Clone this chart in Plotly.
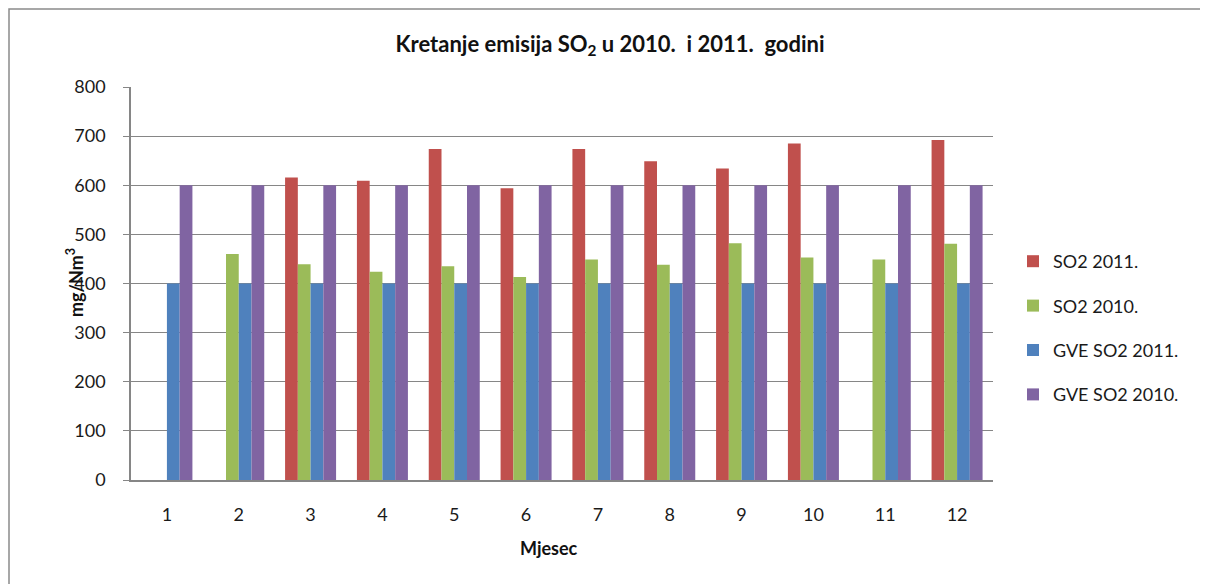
import plotly.graph_objects as go

months = [str(m) for m in range(1, 13)]
so2_2011 = [None, None, 616, 609, 674, 594, 674, 649, 634, 685, None, 692]
so2_2010 = [None, 460, 439, 424, 435, 413, 449, 438, 482, 453, 449, 481]
gve_2011 = [400] * 12
gve_2010 = [600] * 12

series = [
    ("SO2 2011.", so2_2011, "#C0504D"),
    ("SO2 2010.", so2_2010, "#9BBB59"),
    ("GVE SO2 2011.", gve_2011, "#4F81BD"),
    ("GVE SO2 2010.", gve_2010, "#8064A2"),
]

FONT = "Lato, Open Sans, sans-serif"

fig = go.Figure()
for i, (name, vals, col) in enumerate(series):
    fig.add_trace(go.Bar(x=months, y=vals, name=name, marker_color=col,
                         marker_line_width=0, legendgroup=f"g{i}"))

OFF = 8  # page body margin
W, H = 1200, 576
L, T = 131 - OFF, 87 - OFF
R, B = W - (993 - OFF), H - (480 - OFF)
pw, ph = W - L - R, H - T - B


def px(x):
    return (x - OFF - L) / pw


def py(y):
    return (H - B - (y - OFF)) / ph


fig.update_layout(
    width=W, height=H,
    margin=dict(l=L, r=R, t=T, b=B),
    paper_bgcolor="white", plot_bgcolor="white",
    barmode="group", bargap=0.29, bargroupgap=0,
    font=dict(family=FONT, size=18, color="#1a1a1a"),
    title=dict(text="<b>Kretanje emisija SO<sub>2</sub> u 2010.  i 2011.  godini</b>",
               x=(610 - OFF) / W, xanchor="center", y=1 - (44 - OFF) / H, yanchor="middle",
               font=dict(family=FONT, size=22, color="#111")),
    legend=dict(x=px(1013), xanchor="left", y=py(243), yanchor="top",
                font=dict(family=FONT, size=18, color="#1a1a1a"),
                tracegroupgap=18, itemwidth=30, bgcolor="rgba(0,0,0,0)"),
    xaxis=dict(showline=True, linecolor="#868686", linewidth=1.5,
               ticks="", tickfont=dict(size=18), ticklabelstandoff=18),
    yaxis=dict(range=[0, 800], dtick=100, showgrid=True, gridcolor="#868686",
               gridwidth=1.2, showline=True, linecolor="#868686", linewidth=1.5,
               ticks="outside", ticklen=6, tickcolor="#868686",
               tickfont=dict(size=18), ticklabelstandoff=14, zeroline=False),
)

fig.add_annotation(text="<b>mg/Nm<sup>3</sup></b>", textangle=-90,
                   xref="paper", yref="paper", x=px(75), y=py(283),
                   xanchor="center", yanchor="middle",
                   showarrow=False, font=dict(family=FONT, size=18, color="#111"))
fig.add_annotation(text="<b>Mjesec</b>",
                   xref="paper", yref="paper", x=px(549), y=py(548),
                   xanchor="center", yanchor="middle",
                   showarrow=False, font=dict(family=FONT, size=18, color="#111"))

fig.add_shape(type="rect", xref="paper", yref="paper",
              x0=px(9), x1=px(1240),
              y0=py(640), y1=py(9),
              line=dict(color="#8a8a8a", width=1.5), layer="below")

fig.write_html("out.html")
